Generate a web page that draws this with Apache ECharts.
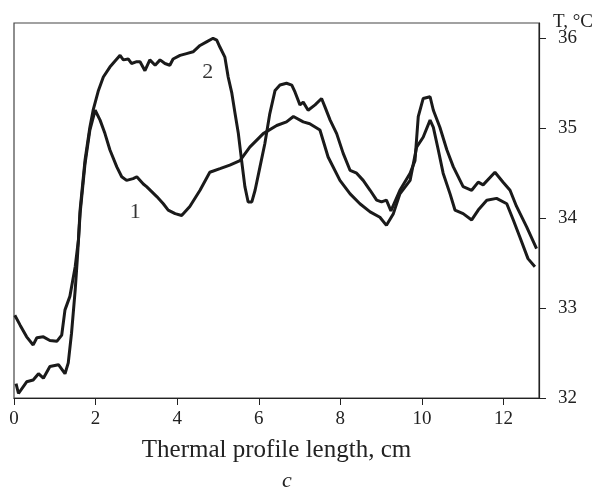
<!DOCTYPE html>
<html>
<head>
<meta charset="utf-8">
<script src="https://cdn.jsdelivr.net/npm/echarts@6/dist/echarts.min.js"></script>
<style>
  html, body { margin: 0; padding: 0; background: #fff; }
  #main { width: 594px; height: 492px; }
</style>
</head>
<body>
<div id="main"></div>
<script>
// curve 1 : thermal profile, x in cm, T in °C
var curve1X = [0.05, 0.11, 0.31, 0.47, 0.60, 0.72, 0.88, 1.09, 1.25, 1.33, 1.41, 1.50, 1.55, 1.62, 1.74, 1.86, 1.99,
  2.11, 2.23, 2.35, 2.52, 2.64, 2.76, 2.92, 3.01, 3.17, 3.25, 3.50, 3.66, 3.78, 3.95, 4.11, 4.31, 4.56, 4.80,
  5.05, 5.29, 5.54, 5.78, 6.11, 6.44, 6.68, 6.85, 7.09, 7.25, 7.50, 7.70, 7.99, 8.24, 8.48, 8.73, 8.97, 9.13,
  9.30, 9.46, 9.71, 9.87, 10.03, 10.20, 10.28, 10.40, 10.52, 10.69, 10.81, 11.01, 11.22, 11.38, 11.59, 11.83,
  12.08, 12.24, 12.40, 12.60, 12.77];
var curve1T = [32.16, 32.05, 32.18, 32.20, 32.27, 32.22, 32.35, 32.37, 32.27, 32.39, 32.72, 33.20, 33.53, 34.05, 34.60, 34.98, 35.20,
  35.09, 34.94, 34.76, 34.57, 34.46, 34.42, 34.44, 34.46, 34.38, 34.35, 34.24, 34.16, 34.09, 34.05, 34.03, 34.13, 34.31, 34.51,
  34.55, 34.59, 34.64, 34.79, 34.94, 35.03, 35.07, 35.13, 35.07, 35.05, 34.98, 34.68, 34.42, 34.27, 34.16, 34.07, 34.01, 33.92,
  34.05, 34.27, 34.42, 34.79, 34.90, 35.09, 35.01, 34.76, 34.50, 34.27, 34.09, 34.05, 33.98, 34.09, 34.20, 34.22,
  34.16, 33.98, 33.79, 33.55, 33.46];

// curve 2
var curve2X = [0.02, 0.15, 0.31, 0.47, 0.56, 0.72, 0.88, 1.05, 1.17, 1.25, 1.37, 1.50, 1.58, 1.62, 1.74, 1.86, 1.94,
  2.07, 2.19, 2.35, 2.52, 2.60, 2.68, 2.80, 2.88, 3.01, 3.09, 3.21, 3.33, 3.46, 3.58, 3.70, 3.82, 3.90, 4.07,
  4.23, 4.39, 4.56, 4.72, 4.88, 4.97, 5.05, 5.17, 5.25, 5.34, 5.42, 5.50, 5.58, 5.66, 5.74, 5.83, 5.91, 6.03,
  6.15, 6.27, 6.40, 6.52, 6.68, 6.81, 6.89, 7.01, 7.09, 7.21, 7.38, 7.54, 7.62, 7.75, 7.91, 8.07, 8.24, 8.40,
  8.56, 8.73, 8.89, 9.01, 9.13, 9.24, 9.46, 9.71, 9.83, 9.91, 10.03, 10.20, 10.28, 10.44, 10.61, 10.77, 11.01,
  11.22, 11.38, 11.50, 11.79, 11.99, 12.16, 12.32, 12.57, 12.81];
var curve2T = [32.92, 32.81, 32.68, 32.59, 32.67, 32.68, 32.64, 32.63, 32.70, 32.98, 33.13, 33.46, 33.76, 34.09, 34.64, 35.01, 35.20,
  35.42, 35.57, 35.68, 35.77, 35.81, 35.76, 35.77, 35.72, 35.74, 35.74, 35.64, 35.76, 35.70, 35.76, 35.72, 35.70, 35.77, 35.81,
  35.83, 35.85, 35.92, 35.96, 36.00, 35.98, 35.90, 35.79, 35.57, 35.39, 35.16, 34.94, 34.64, 34.35, 34.18, 34.18, 34.31, 34.57,
  34.83, 35.16, 35.42, 35.48, 35.50, 35.48, 35.40, 35.26, 35.29, 35.20, 35.26, 35.33, 35.24, 35.09, 34.94, 34.72, 34.53, 34.50,
  34.42, 34.31, 34.20, 34.18, 34.20, 34.08, 34.31, 34.50, 34.64, 35.13, 35.33, 35.35, 35.20, 35.01, 34.76, 34.57, 34.35,
  34.31, 34.40, 34.37, 34.51, 34.40, 34.31, 34.13, 33.90, 33.66];

var xTicks = [0, 2, 4, 6, 8, 10, 12];
var yTicks = [32, 33, 34, 35, 36];
var curveNames = ['1', '2'];
var curveLabelPos = [[2.97, 34.07], [4.75, 35.62]];

function zip(xs, ys) {
  return xs.map(function (x, i) { return [x, ys[i]]; });
}

var font = 'Liberation Serif';
var ink = '#1a1a1a';

var chart = echarts.init(document.getElementById('main'), null, { renderer: 'canvas' });

var lineStyle = { color: ink, width: 3 };

var option = {
  backgroundColor: '#fff',
  animation: false,
  grid: {
    left: 14, right: 55, top: 23, bottom: 94,
    show: true, borderColor: '#444', borderWidth: 1.2
  },
  xAxis: {
    type: 'value',
    min: 0, max: 12.87,
    interval: 2,
    name: 'Thermal profile length, cm',
    nameLocation: 'middle',
    nameGap: 40,
    nameTextStyle: { fontFamily: font, fontSize: 25, color: '#222' },
    axisLine: { onZero: false, lineStyle: { color: '#222', width: 1.2 } },
    axisTick: { length: 7, customValues: xTicks, lineStyle: { color: '#222' } },
    axisLabel: { customValues: xTicks, margin: 12, fontFamily: font, fontSize: 19, color: '#222' },
    splitLine: { show: false }
  },
  yAxis: {
    type: 'value',
    position: 'right',
    min: 32, max: 36.17,
    interval: 1,
    axisLine: { show: true, onZero: false, lineStyle: { color: '#222', width: 1.2 } },
    axisTick: { show: true, length: 7, customValues: yTicks, lineStyle: { color: '#222' } },
    axisLabel: { customValues: yTicks, margin: 19, fontFamily: font, fontSize: 19, color: '#222' },
    splitLine: { show: false }
  },
  graphic: [
    { type: 'text', left: 553, top: 13, style: { text: 'T, °C', font: '19px "Liberation Serif"', fill: '#222' } },
    { type: 'text', left: 282, top: 470, style: { text: 'c', font: 'italic 22px "Liberation Serif"', fill: '#222' } }
  ],
  series: [
    {
      name: '1', type: 'line', data: zip(curve1X, curve1T),
      showSymbol: false, symbol: 'none', lineStyle: lineStyle, z: 3
    },
    {
      name: '2', type: 'line', data: zip(curve2X, curve2T),
      showSymbol: false, symbol: 'none', lineStyle: lineStyle, z: 3
    },
    {
      type: 'scatter',
      symbolSize: 1,
      itemStyle: { color: 'rgba(0,0,0,0)' },
      data: curveLabelPos.map(function (p, i) { return { value: p, name: curveNames[i] }; }),
      label: {
        show: true, position: 'inside', formatter: '{b}',
        fontFamily: font, fontSize: 22, color: '#000', textBorderWidth: 0
      },
      silent: true
    }
  ]
};

chart.setOption(option);
</script>
</body>
</html>
